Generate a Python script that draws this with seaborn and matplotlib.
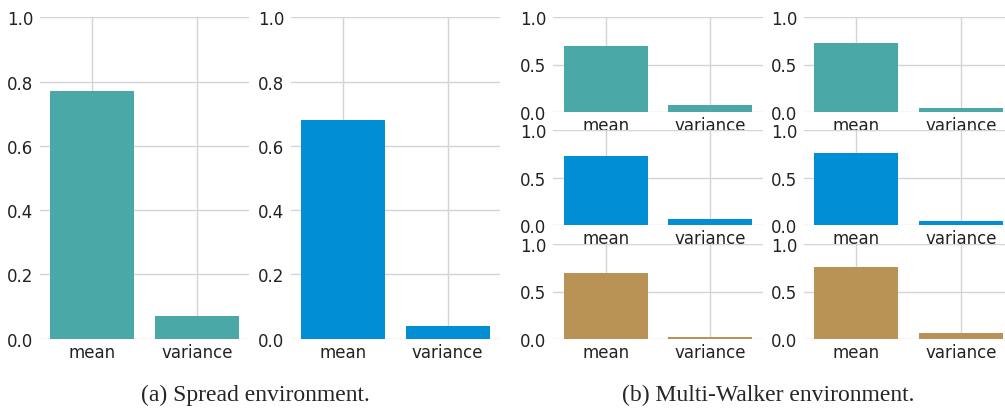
import matplotlib
matplotlib.use('Agg')
import matplotlib.pyplot as plt
import seaborn as sns

# data
stats = ['mean', 'variance']
spread_values = [[0.771, 0.071], [0.680, 0.039]]
walker_values = [
    [[0.696, 0.070], [0.728, 0.040]],
    [[0.730, 0.066], [0.760, 0.045]],
    [[0.696, 0.018], [0.760, 0.060]],
]
row_colors = ['#4aa9a7', '#028ed5', '#b99356']
captions = ['(a) Spread environment.', '(b) Multi-Walker environment.']

sns.set_theme(style='whitegrid')
plt.rcParams['font.family'] = ['DejaVu Sans']
plt.rcParams['font.sans-serif'] = ['DejaVu Sans']

W, H = 1005, 410
fig = plt.figure(figsize=(W / 100, H / 100), dpi=100)


def px_axes(left, right, top, bottom):
    return fig.add_axes([left / W, 1 - bottom / H, (right - left) / W, (bottom - top) / H])


def draw(ax, values, color, ticks, fontsize):
    sns.barplot(x=stats, y=values, color=color, saturation=1, width=0.8,
                linewidth=0, ax=ax)
    ax.set_ylim(0, 1)
    ax.set_xlim(-0.5, 1.5)
    ax.set_yticks(ticks)
    ax.set_xlabel('')
    ax.set_ylabel('')
    ax.grid(True, color='#d4d4d4', linewidth=1)
    ax.set_axisbelow(True)
    for s in ax.spines.values():
        s.set_visible(False)
    ax.tick_params(axis='both', length=0, labelsize=fontsize, colors='#222222')
    ax.tick_params(axis='y', pad=5)
    ax.tick_params(axis='x', pad=3)


# (a) spread: two tall panels
a_lefts = [40, 291]
for i, vals in enumerate(spread_values):
    ax = px_axes(a_lefts[i], a_lefts[i] + 209, 18.3, 339.7)
    draw(ax, vals, row_colors[i], [0, 0.2, 0.4, 0.6, 0.8, 1.0], 12)

# (b) multi-walker: 3 rows x 2 cols
b_lefts = [553.3, 804]
b_rows = [(18.3, 112.7), (131.3, 226.3), (245.3, 339.7)]
for r, row in enumerate(walker_values):
    for c, vals in enumerate(row):
        top, bottom = b_rows[r]
        ax = px_axes(b_lefts[c], b_lefts[c] + 209.4, top, bottom)
        draw(ax, vals, row_colors[r], [0, 0.5, 1.0], 12)

fig.text(255 / W, 1 - 395 / H, captions[0], ha='center', va='center',
         fontsize=17, family='Liberation Serif')
fig.text(768 / W, 1 - 395 / H, captions[1], ha='center', va='center',
         fontsize=17, family='Liberation Serif')

fig.savefig('out.png', dpi=100)
